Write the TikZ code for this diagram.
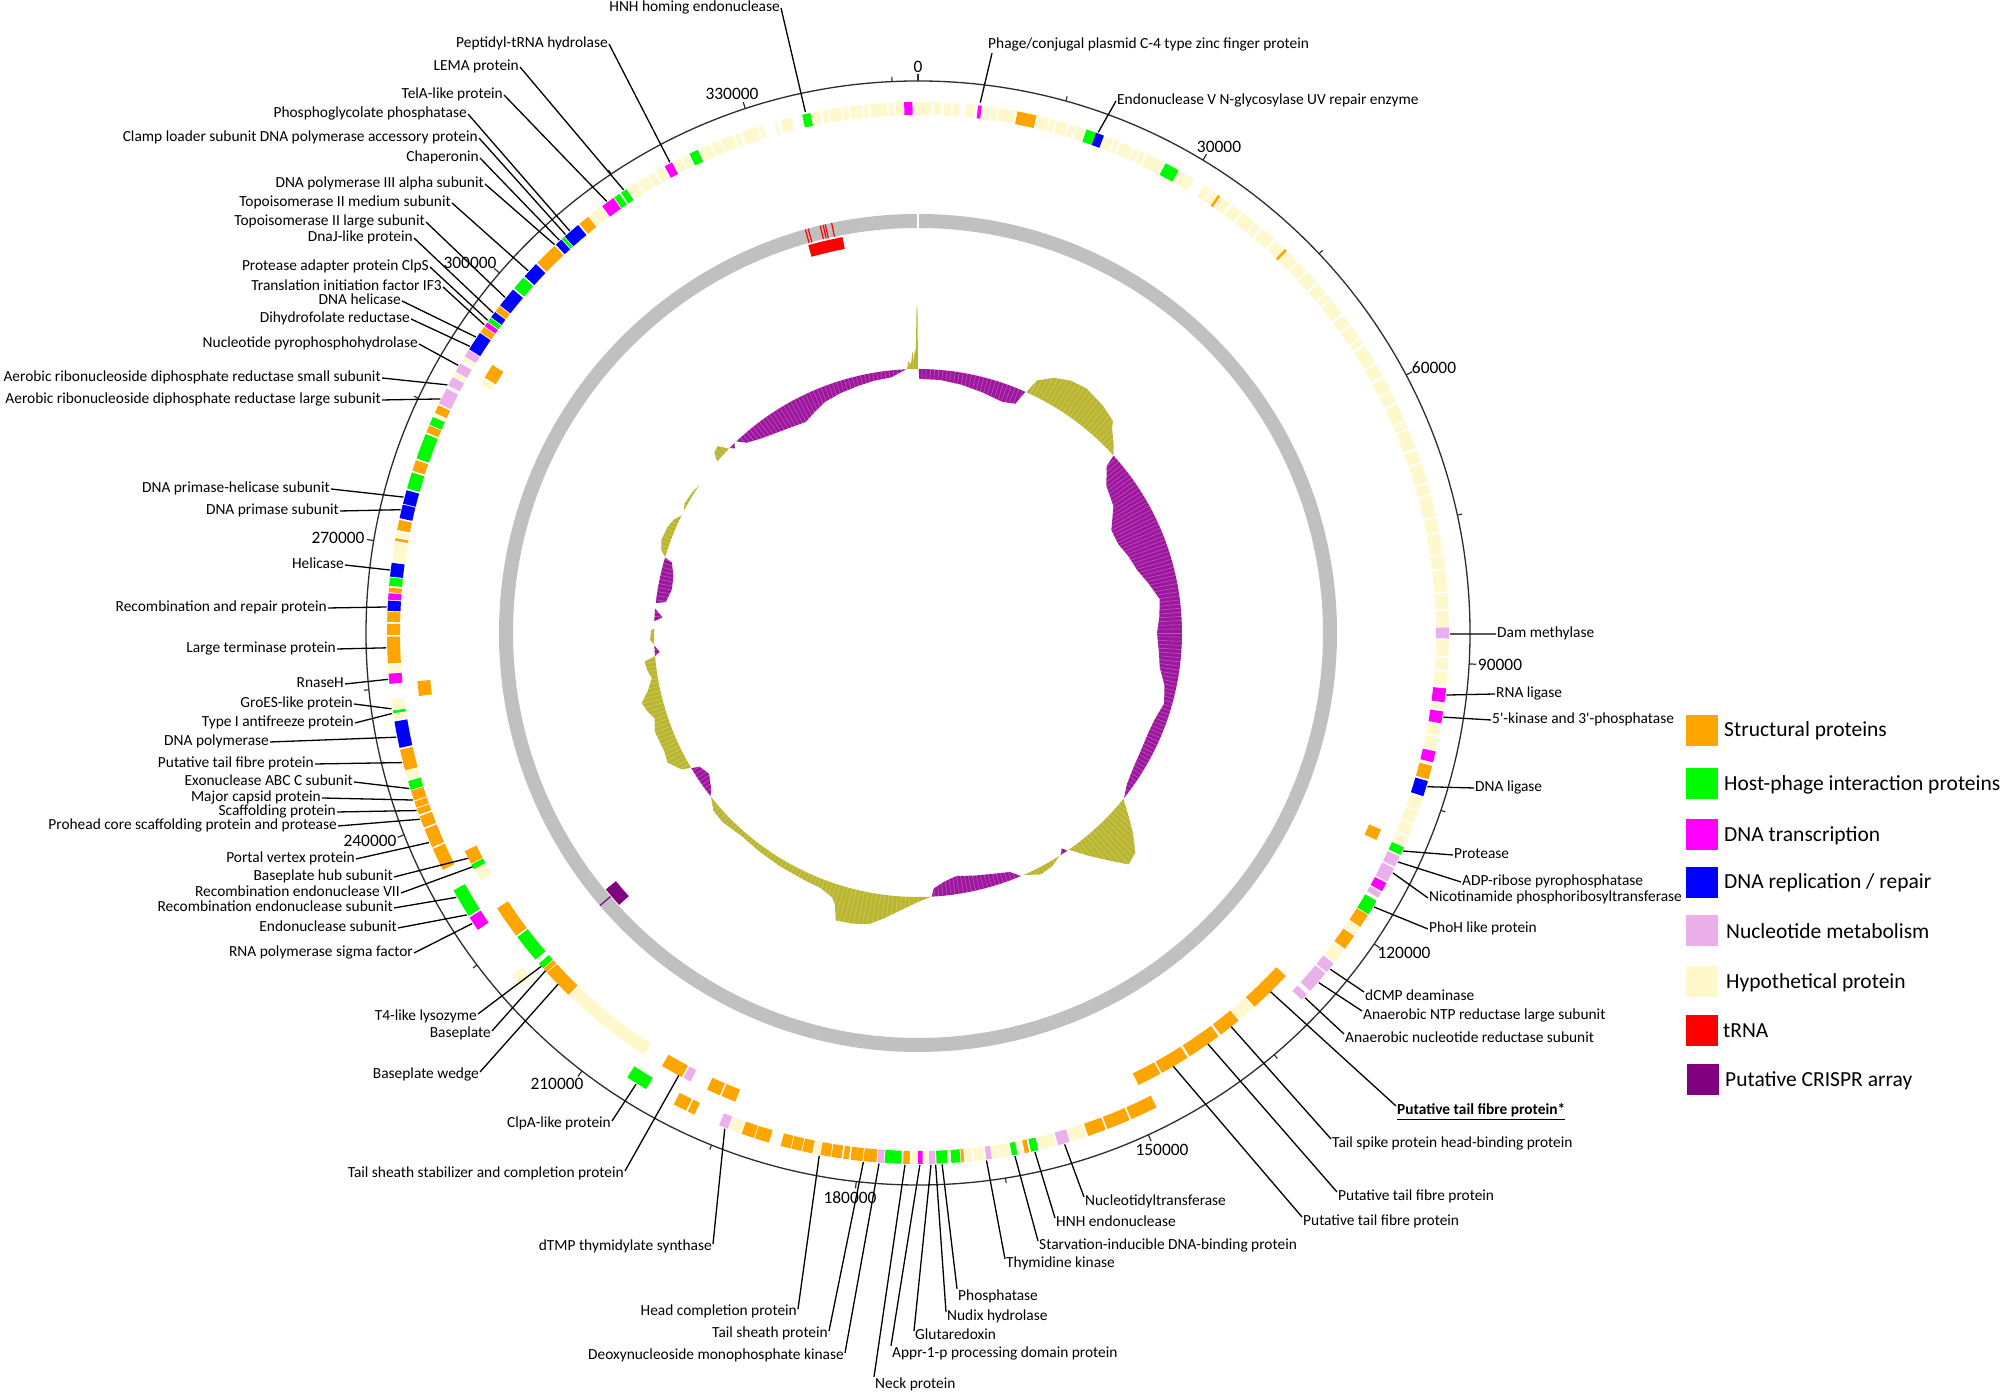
\documentclass[tikz,border=0pt]{standalone}
\usepackage{fontspec}
\setmainfont{Carlito}
\definecolor{orangeS}{RGB}{255,165,0}
\definecolor{greenH}{RGB}{0,250,0}
\definecolor{magT}{RGB}{255,0,255}
\definecolor{blueR}{RGB}{0,0,255}
\definecolor{lavN}{RGB}{235,175,235}
\definecolor{paleH}{RGB}{255,248,204}
\definecolor{redT}{RGB}{255,0,0}
\definecolor{purC}{RGB}{128,0,128}
\definecolor{greyR}{RGB}{192,192,192}
\definecolor{skewO}{RGB}{186,182,48}
\definecolor{skewP}{RGB}{158,22,158}
\definecolor{circ}{RGB}{45,45,45}
\newcommand\gseg[5]{\fill[#5] ({90-(#1)}:#3) arc[start angle={90-(#1)}, end angle={90-(#2)}, radius=#3] -- ({90-(#2)}:#4) arc[start angle={90-(#2)}, end angle={90-(#1)}, radius=#4] -- cycle;}
\newcommand\ringA[2]{\foreach \sa/\sb in {#2} {\gseg{\sa}{\sb}{518}{531}{#1}}}
\newcommand\ringB[2]{\foreach \sa/\sb in {#2} {\gseg{\sa}{\sb}{490}{503}{#1}}}
\newcommand\gcskew[4]{\fill[#1] ({90-(#2)}:264) \foreach \st/\sh in {#4} { -- ({90-(\st)}:{264+(\sh)}) } -- ({90-(#3)}:264) arc[start angle={90-(#3)}, end angle={90-(#2)}, radius=264] -- cycle;}
\begin{document}
\begin{tikzpicture}[x=1pt,y=1pt,
  lbl/.style={font=\fontsize{15.4}{18}\selectfont, inner sep=1pt, text height=11pt, text depth=3pt},
  tk/.style={font=\fontsize{17.4}{20}\selectfont, inner sep=0pt},
  legt/.style={font=\fontsize{21.5}{25}\selectfont, inner sep=1pt, anchor=west},
  sq/.style={minimum width=32pt, minimum height=31pt, inner sep=0pt, draw=none},
  ld/.style={line width=1.3pt, black}]
\useasboundingbox (0,0) rectangle (2008,1396);
\fill[white] (0,0) rectangle (2008,1396);
\begin{scope}[shift={(918,763)}]
% outer circle and ticks
\draw[circ, line width=1.3pt] (0,0) circle[radius=552];
\foreach \k in {0,...,11} {
  \pgfmathsetmacro\th{\k*31.0702}
  \draw[circ, line width=1.2pt] ({90-\th}:552) -- ({90-\th}:559);
  \pgfmathsetmacro\tm{(\k+0.5)*31.0702}
  \draw[circ, line width=1.1pt] ({90-\tm}:552) -- ({90-\tm}:557);
}
% ring A: hypothetical
\ringA{paleH}{326.9/328.0, 328.2/329.3, 329.5/330.2, 330.4/331.3, 332.6/333.4, 333.6/334.3, 335.7/336.9, 337.1/338.0, 338.2/339.6, 339.8/340.3, 340.6/342.4, 342.6/343.0, 344.3/344.6, 345.0/346.2, 348.4/349.3, 349.6/350.2, 350.4/351.6, 351.8/352.4, 352.6/353.9, 354.1/354.6, 354.8/356.6, 356.8/357.4, 357.6/358.4, 359.7/361.5, 361.7/362.5, 362.8/363.6, 363.8/364.5, 5.2/6.2, 7.0/7.8, 8.0/8.6, 8.8/10.6, 13.1/14.3, 14.5/15.0, 15.2/16.4, 16.6/17.2, 17.4/18.3, 20.7/21.6, 21.8/22.3, 22.5/23.9, 24.1/24.6, 24.8/25.4, 25.6/27.6, 29.6/31.3, 32.6/33.4, 33.6/34.3, 34.8/36.0, 36.3/37.5, 37.8/39.3, 39.5/40.2, 40.5/42.1, 42.4/43.6, 44.1/45.6, 45.8/47.0, 47.2/48.6, 48.9/50.2, 50.4/51.0, 51.2/53.0, 53.3/54.5, 54.7/56.2, 56.4/57.0, 57.3/59.4, 59.6/61.0, 61.3/62.8, 63.0/64.2, 64.5/66.4, 66.6/67.3, 67.5/69.6, 69.9/71.2, 71.4/73.5, 73.7/74.8, 75.0/77.3, 77.5/79.0, 79.2/81.4, 81.6/83.0, 83.2/85.5, 85.7/87.4, 87.6/89.3, 90.8/92.5, 92.7/94.0, 94.2/95.8, 97.7/98.3, 100.0/101.2, 101.4/102.7, 108.1/109.5, 109.7/111.0, 111.2/112.4, 112.6/113.6, 123.7/124.6, 126.7/128.3, 161.5/163.3, 164.9/166.7, 168.6/169.0, 170.0/172.0, 172.8/173.9, 174.1/174.9, 176.5/176.7, 178.9/179.4, 180.1/180.8, 190.7/191.3, 199.6/200.9, 228.3/229.8, 254.0/254.9, 260.6/261.2, 261.7/262.8, 265.7/266.5, 277.7/279.9, 280.4/281.0, 294.1/294.4, 298.9/299.4, 300.9/301.3, 321.7/323.4}
\ringA{orangeS}{10.8/12.9, 34.4/34.7, 43.7/44.0, 104.5/106.0, 122.1/123.6, 124.8/126.5, 153.3/156.3, 156.5/159.1, 159.3/161.3, 167.9/168.4, 175.0/175.3, 180.9/181.6, 184.5/185.9, 186.0/187.3, 187.5/188.1, 188.3/189.4, 189.5/190.6, 191.5/192.6, 192.7/193.8, 193.9/195.0, 196.3/197.9, 198.0/199.4, 204.9/205.7, 205.9/207.4, 243.5/246.0, 246.2/248.3, 248.5/249.8, 250.0/250.7, 250.8/251.5, 251.6/252.7, 255.0/257.3, 266.7/269.6, 269.8/271.0, 271.2/272.3, 274.4/274.9, 280.0/280.3, 281.2/282.3, 287.8/289.0, 292.2/293.0, 294.5/295.4, 304.5/305.2, 307.3/308.0, 314.2/316.8, 320.4/321.6}
\ringA{greenH}{18.5/19.6, 27.8/29.4, 113.8/114.7, 120.3/122.0, 166.9/167.7, 169.2/169.8, 175.4/176.4, 176.8/178.0, 181.8/183.6, 210.8/213.2, 237.8/241.0, 252.8/253.8, 261.3/261.6, 275.1/276.0, 285.8/287.6, 289.2/292.0, 293.1/294.0, 305.9/306.4, 310.5/312.0, 317.9/318.2, 325.1/325.8, 326.0/326.7, 334.5/335.5, 347.4/348.3}
\ringA{magT}{6.5/6.9, 96.0/97.5, 98.5/99.8, 102.9/104.1, 118.1/119.1, 179.5/180.0, 236.0/237.6, 264.5/265.6, 273.6/274.3, 305.3/305.8, 323.5/325.0, 331.5/332.4, 358.5/359.4}
\ringA{blueR}{19.6/20.5, 106.2/107.9, 257.5/260.4, 272.4/273.5, 276.1/277.6, 282.5/284.0, 284.1/285.6, 302.3/304.4, 306.5/307.2, 308.1/310.3, 312.2/314.0, 317.0/317.8, 318.3/320.2}
\ringA{lavN}{89.4/90.6, 114.9/116.1, 116.3/117.9, 119.3/119.9, 128.5/129.7, 129.9/132.4, 132.9/133.7, 163.4/164.7, 172.0/172.6, 178.1/178.8, 183.7/184.4, 201.0/202.0, 295.6/297.4, 297.8/298.8, 299.5/300.5, 301.4/302.2}
% ring B
\ringB{orangeS}{113.0/114.3, 133.0/138.0, 140.4/143.0, 143.3/147.3, 147.6/151.0, 151.2/154.0, 201.3/203.0, 203.2/204.8, 208.0/210.6, 224.0/227.5, 227.6/228.1, 233.0/236.8, 242.7/244.3, 262.8/264.5, 300.5/302.2}
\ringB{paleH}{138.2/140.2, 213.0/223.8, 240.5/242.0, 299.6/300.3}
\ringB{greenH}{228.2/228.9, 229.5/232.8, 242.0/242.6}
\ringB{lavN}{206.9/207.8}
% grey ring, tRNA, CRISPR
\fill[greyR, even odd rule] (0,0) circle[radius=419] (0,0) circle[radius=405];
\draw[white, line width=1.5pt] (90:403) -- (90:421);
\foreach \t in {344.4,344.8,346.5,346.9,347.2,348.1} {\draw[redT, line width=1.2pt] ({90-\t}:405) -- ({90-\t}:419);}
\gseg{344.2}{349.2}{391}{403}{redT}
\gseg{227.7}{230.6}{391}{404}{purC}
\draw[purC, line width=1.2pt] ({90-229.4}:405) -- ({90-229.4}:419);
% GC skew
\gcskew{skewO}{357.6}{360}{358.0/8, 358.5/5, 358.9/18, 359.1/8, 359.4/20, 359.55/15, 359.75/63, 359.9/60}
\gcskew{skewP}{0.1}{24}{0.3/-10, 5/-10, 10/-12, 15/-15, 20/-18, 23/-15}
\gcskew{skewO}{24.2}{47.8}{25.2/15, 28/25, 31.2/31, 34.6/33, 39.2/29, 42.6/24, 43.5/18, 46/8}
\gcskew{skewP}{47.8}{128.7}{48.5/-12, 52/-25, 57/-31, 62/-45, 66/-45, 70/-40, 74/-36, 78/-28, 82/-20, 86/-22, 90/-25, 95/-22, 98/-20, 102/-12, 106/-8, 110/-12, 113/-13, 118/-12, 122/-10, 126/-6}
\gcskew{skewO}{128.9}{145.2}{131/15, 133/30, 135.3/45, 137.7/49, 140/33, 142.5/17}
\gcskew{skewP}{145.5}{147.3}{146.3/-5}
\gcskew{skewO}{147.6}{156.5}{150/5, 153/7}
\gcskew{skewP}{157}{177}{159/-8, 163/-12, 167/-15, 171/-18, 174/-14, 176.5/-8}
\gcskew{skewO}{177}{231.7}{180/5, 184/15, 187/24, 189.5/31, 192.7/34, 196/35, 197/20, 198/14, 201/9, 205/8, 211/7, 216/6, 221/5, 226/8, 229/7}
\gcskew{skewP}{231.8}{239.2}{233/-5, 236/-12, 238.5/-8}
\gcskew{skewO}{239.3}{265}{240/9, 242.6/18, 245/16, 249.4/17, 252/13, 254/18, 255.8/21, 258/12, 260.4/6, 262/9, 264/11}
\gcskew{skewP}{265}{267.3}{265.8/-5}
\gcskew{skewO}{267.5}{271}{268.5/4, 270.5/3}
\gcskew{skewP}{272.5}{275.3}{273.5/-8}
\gcskew{skewP}{276.5}{286.6}{277/-10, 280/-14, 283/-13, 286/-8}
\gcskew{skewO}{286.7}{296.5}{288/6, 290/9, 293/8, 295/5}
\gcskew{skewO}{297.5}{304}{299/3, 302/2}
\gcskew{skewO}{310.5}{314.3}{311.5/8, 313/10}
\gcskew{skewP}{314.5}{316}{315.2/-4}
\gcskew{skewP}{316.5}{357.5}{318/-8, 321/-14, 324/-18, 328/-22, 332/-25, 335/-20, 338/-15, 342/-12, 346/-10, 350/-8, 354/-7}
% hatch texture of the skew bars
\foreach \t in {0,0.9,...,359.5} {\draw[white, opacity=0.28, line width=0.6pt] (\t:212) -- (\t:332);}
% leader targets
\foreach \n/\t/\r in {1/332.2/532, 2/326.4/532, 3/324.2/532, 4/319.1/532, 5/318.5/532, 6/317.6/532, 7/316.9/532, 8/312.9/532, 9/309.1/532, 10/307.0/532, 11/306.0/532, 12/305.4/532, 13/303.8/532, 14/302.6/532, 15/300.2/532, 16/297.8/532, 17/296.1/532, 18/284.8/532, 19/283.4/532, 20/276.8/532, 21/272.8/532, 22/268.4/532, 23/265.0/532, 24/261.8/532, 25/261.3/532, 26/258.7/532, 27/255.9/532, 28/253.0/532, 29/251.7/532, 30/250.5/532, 31/249.5/532, 32/246.8/532, 33/243.4/503, 34/242.3/503, 35/240.2/532, 36/238.0/532, 37/236.9/532, 38/228.5/503, 39/227.8/503, 40/225.7/503, 41/212.0/532, 42/208.4/503, 43/201.3/532, 44/190.7/532, 45/185.9/532, 46/184.2/532, 47/181.4/532, 48/179.8/532, 49/178.6/532, 50/178.1/532, 51/177.4/532, 52/172.6/532, 53/169.5/532, 54/167.3/532, 55/164.0/532, 56/149.5/503, 57/144.8/503, 58/141.5/503, 59/135.5/503, 60/133.3/532, 61/131.1/532, 62/129.2/532, 63/121.0/532, 64/116.8/532, 65/115.5/532, 66/114.2/532, 67/106.8/532, 68/99.1/532, 69/96.7/532, 70/90.1/532, 71/19.8/532, 72/6.7/534, 73/347.8/533}
  {\coordinate (T\n) at ({90-\t}:\r);}
\end{scope}
% tick labels
\node[tk] (s0) at (918,1329) {0};
\node[tk] (s1) at (1219,1249) {30000};
\node[tk] (s2) at (1434,1028) {60000};
\node[tk] (s3) at (1500,731) {90000};
\node[tk] (s4) at (1404,443) {120000};
\node[tk] (s5) at (1162,246) {150000};
\node[tk] (s6) at (850,198) {180000};
\node[tk] (s7) at (557,312) {210000};
\node[tk] (s8) at (370,555) {240000};
\node[tk] (s9) at (338,858) {270000};
\node[tk] (s10) at (470,1133) {300000};
\node[tk] (s11) at (732,1302) {330000};
% left labels
\begin{scope}[every node/.style={lbl, anchor=east}]
\node (L1) at (609,1352) {Peptidyl-tRNA hydrolase};
\node (L2) at (520,1329) {LEMA protein};
\node (L3) at (504,1301) {TelA-like protein};
\node (L4) at (468,1282) {Phosphoglycolate phosphatase};
\node (L5) at (479,1258) {Clamp loader subunit DNA polymerase accessory protein};
\node (L6) at (480,1238) {Chaperonin};
\node (L7) at (485,1212) {DNA polymerase III alpha subunit};
\node (L8) at (452,1193) {Topoisomerase II medium subunit};
\node (L9) at (426,1174) {Topoisomerase II large subunit};
\node (L10) at (414,1158) {DnaJ-like protein};
\node (L11) at (430,1129) {Protease adapter protein ClpS};
\node (L12) at (443,1109) {Translation initiation factor IF3};
\node (L13) at (402,1095) {DNA helicase};
\node (L14) at (411,1077) {Dihydrofolate reductase};
\node (L15) at (419,1052) {Nucleotide pyrophosphohydrolase};
\node (L16) at (382,1018) {Aerobic ribonucleoside diphosphate reductase small subunit};
\node (L17) at (382,996) {Aerobic ribonucleoside diphosphate reductase large subunit};
\node (L18) at (331,907) {DNA primase-helicase subunit};
\node (L19) at (340,885) {DNA primase subunit};
\node (L20) at (345,831) {Helicase};
\node (L21) at (328,788) {Recombination and repair protein};
\node (L22) at (337,747) {Large terminase protein};
\node (L23) at (345,712) {RnaseH};
\node (L24) at (354,692) {GroES-like protein};
\node (L25) at (355,673) {Type I antifreeze protein};
\node (L26) at (270,654) {DNA polymerase};
\node (L27) at (315,632) {Putative tail fibre protein};
\node (L28) at (354,614) {Exonuclease ABC C subunit};
\node (L29) at (322,598) {Major capsid protein};
\node (L30) at (337,584) {Scaffolding protein};
\node (L31) at (338,570) {Prohead core scaffolding protein and protease};
\node (L32) at (356,537) {Portal vertex protein};
\node (L33) at (394,519) {Baseplate hub subunit};
\node (L34) at (401,503) {Recombination endonuclease VII};
\node (L35) at (394,488) {Recombination endonuclease subunit};
\node (L36) at (398,468) {Endonuclease subunit};
\node (L37) at (414,443) {RNA polymerase sigma factor};
\node (L38) at (478,379) {T4-like lysozyme};
\node (L39) at (492,362) {Baseplate};
\node (L40) at (480,321) {Baseplate wedge};
\node (L41) at (612,272) {ClpA-like protein};
\node (L42) at (625,222) {Tail sheath stabilizer and completion protein};
\node (L43) at (713,149) {dTMP thymidylate synthase};
\node (L44) at (798,84) {Head completion protein};
\node (L45) at (829,62) {Tail sheath protein};
\node (L46) at (845,40) {Deoxynucleoside monophosphate kinase};
\node (L73) at (781,1388) {HNH homing endonuclease};
\end{scope}
\begin{scope}[every node/.style={lbl, anchor=west}]
\node (L47) at (874,11) {Neck protein};
\node (L48) at (891,42) {Appr-1-p processing domain protein};
\node (L49) at (914,60) {Glutaredoxin};
\node (L50) at (946,79) {Nudix hydrolase};
\node (L51) at (957,99) {Phosphatase};
\node (L52) at (1005,132) {Thymidine kinase};
\node (L53) at (1038,150) {Starvation-inducible DNA-binding protein};
\node (L54) at (1055,173) {HNH endonuclease};
\node (L55) at (1084,194) {Nucleotidyltransferase};
\node (L56) at (1302,174) {Putative tail fibre protein};
\node (L57) at (1337,199) {Putative tail fibre protein};
\node (L58) at (1331,252) {Tail spike protein head-binding protein};
\node (L59) at (1396,285) {\underline{\textbf{Putative tail fibre protein*}}};
\node (L60) at (1344,357) {Anaerobic nucleotide reductase subunit};
\node (L61) at (1362,380) {Anaerobic NTP reductase large subunit};
\node (L62) at (1364,399) {dCMP deaminase};
\node (L63) at (1428,467) {PhoH like protein};
\node (L64) at (1428,498) {Nicotinamide phosphoribosyltransferase};
\node (L65) at (1461,514) {ADP-ribose pyrophosphatase};
\node (L66) at (1453,541) {Protease};
\node (L67) at (1474,608) {DNA ligase};
\node (L68) at (1491,676) {5\textquotesingle-kinase and 3\textquotesingle-phosphatase};
\node (L69) at (1495,702) {RNA ligase};
\node (L70) at (1496,762) {Dam methylase};
\node (L71) at (1116,1295) {Endonuclease V N-glycosylase UV repair enzyme};
\node (L72) at (987,1351) {Phage/conjugal plasmid C-4 type zinc finger protein};
\end{scope}
% leader lines
\foreach \n in {1,...,37} {\draw[ld] (L\n.east) -- (T\n);}
\foreach \n in {38,...,46} {\draw[ld] ([yshift=3pt]L\n.east) -- (T\n);}
\draw[ld] (L73.east) -- (T73);
\foreach \n in {47,48,51} {\draw[ld] (L\n.north west) -- (T\n);}
\foreach \n in {49,50,52,53,54,55,56,57,58,59,60,61,62} {\draw[ld] ([yshift=5pt]L\n.west) -- (T\n);}
\foreach \n in {63,...,71} {\draw[ld] (L\n.west) -- (T\n);}
\draw[ld] ([xshift=5pt]L72.south west) -- (T72);
% legend
\node[sq, fill=orangeS] (k1) at (1702,665) {};
\node[sq, fill=greenH] (k2) at (1702,612) {};
\node[sq, fill=magT] (k3) at (1702,561.5) {};
\node[sq, fill=blueR] (k4) at (1702,513) {};
\node[sq, fill=lavN] (k5) at (1702,465.5) {};
\node[sq, fill=paleH] (k6) at (1702,414.5) {};
\node[sq, fill=redT] (k7) at (1702,365) {};
\node[sq, fill=purC] (k8) at (1703,316) {};
\node[legt] (k1t) at (1723,665) {Structural proteins};
\node[legt] (k2t) at (1723,611) {Host-phage interaction proteins};
\node[legt] (k3t) at (1723,560.5) {DNA transcription};
\node[legt] (k4t) at (1723,513) {DNA replication / repair};
\node[legt] (k5t) at (1725,464.5) {Nucleotide metabolism};
\node[legt] (k6t) at (1725,413.5) {Hypothetical protein};
\node[legt] (k7t) at (1722,365) {tRNA};
\node[legt] (k8t) at (1724,315) {Putative CRISPR array};
\end{tikzpicture}
\end{document}
